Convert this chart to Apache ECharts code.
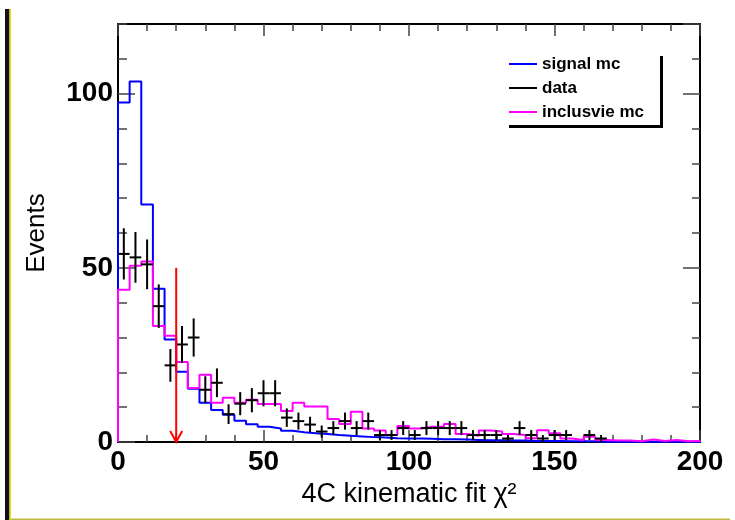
<!DOCTYPE html>
<html>
<head>
<meta charset="utf-8">
<script src="https://cdn.jsdelivr.net/npm/echarts@6/dist/echarts.min.js"></script>
<style>
  html, body { margin: 0; padding: 0; background: #fff; }
  #chart { width: 735px; height: 520px; }
</style>
</head>
<body>
<div id="chart"></div>
<script>
var chart = echarts.init(document.getElementById('chart'));

// histogram binning: 50 bins of width 4 from 0 to 200
var BIN_WIDTH = 4;
var X_MAX = 200;

// signal mc (blue)
var signalMc = [97.5, 103.5, 68.2, 44.0, 29.4, 20.2, 15.3, 11.3, 9.2, 7.8,
                6.1, 5.1, 4.4, 3.9, 3.2, 2.8, 2.5, 2.3, 2.0, 1.8,
                1.6, 1.4, 1.3, 1.1, 1.0, 1.0, 0.9, 0.8, 0.8, 0.7,
                0.6, 0.5, 0.5, 0.4, 0.4, 0.3, 0.3, 0.3, 0.2, 0.2,
                0.2, 0.1, 0.1, 0.1, 0.1, 0.1, 0.05, 0.05, 0.05, 0.05];

// inclusive mc (magenta)
var inclusiveMc = [43.7, 50.6, 51.8, 33.3, 30.5, 23.0, 15.5, 19.3, 11.3, 12.7,
                   11.3, 12.1, 10.9, 10.9, 8.9, 11.3, 10.2, 10.2, 6.6, 5.2,
                   8.7, 3.9, 3.3, 2.0, 4.6, 3.9, 4.4, 4.4, 5.2, 2.3,
                   1.8, 3.3, 3.0, 2.3, 2.0, 1.1, 3.4, 2.5, 1.0, 0.6,
                   1.5, 0.6, 0.4, 0.4, 0.2, 0.7, 0.3, 0.6, 0.2, 0.3];

// data counts (black points, sqrt(N) errors)
var dataCounts = [54, 53, 51, 39, 22, 28, 30, 15, 17, 8,
                  11, 12, 14, 14, 7, 6, 5, 3, 4, 6,
                  4, 6, 2, 2, 4, 2, 4, 4, 4, 4,
                  2, 2, 2, 1, 4, 2, 1, 2, 2, 0,
                  2, 1, 0, 0, 0, 0, 0, 0, 0, 0];

// cut position (red arrow)
var cutX = 20;
var cutTop = 50;

var seriesNames = ['signal mc', 'data', 'inclusvie mc'];

function stepPoints(values) {
    var pts = [[0, 0]];
    for (var i = 0; i < values.length; i++) {
        var lo = i * BIN_WIDTH;
        pts.push([lo, values[i]]);
        pts.push([lo + BIN_WIDTH, values[i]]);
    }
    pts.push([X_MAX, 0]);
    return pts;
}

function dataPoints(counts) {
    var res = [];
    for (var i = 0; i < counts.length; i++) {
        if (counts[i] > 0) {
            res.push([i * BIN_WIDTH + BIN_WIDTH / 2, counts[i]]);
        }
    }
    return res;
}

var labelFont = {
    fontFamily: 'Liberation Sans',
    fontWeight: 'bold',
    fontSize: 28,
    color: '#000'
};

function xAxisDef(pos, showLabel) {
    return {
        type: 'value', position: pos, min: 0, max: X_MAX, interval: 50,
        axisLine: { show: true, onZero: false, lineStyle: { color: '#000', width: 2 } },
        axisTick: { show: true, inside: true, length: 12, lineStyle: { color: '#444', width: 1.5 } },
        minorTick: { show: true, splitNumber: 5, length: 7, lineStyle: { color: '#444', width: 1.5 } },
        splitLine: { show: false },
        axisLabel: Object.assign({ show: showLabel, margin: 6 }, labelFont)
    };
}

function yAxisDef(pos, interval, len, showLabel, showLine) {
    return {
        type: 'value', position: pos, min: 0, max: 120, interval: interval,
        axisLine: { show: showLine, onZero: false, lineStyle: { color: '#000', width: 2 } },
        axisTick: { show: true, inside: true, length: len, lineStyle: { color: '#444', width: 1.5 } },
        splitLine: { show: false },
        axisLabel: Object.assign({ show: showLabel, margin: 5, showMaxLabel: false }, labelFont)
    };
}

var xBottom = xAxisDef('bottom', true);
xBottom.name = '4C kinematic fit \u03c7\u00b2';
xBottom.nameLocation = 'middle';
xBottom.nameGap = 31;
xBottom.nameTextStyle = { fontFamily: 'Liberation Sans', fontSize: 27, color: '#000' };

var yLeft = yAxisDef('left', 50, 17, true, true);
yLeft.name = 'Events';
yLeft.nameLocation = 'middle';
yLeft.nameRotate = 90;
yLeft.nameGap = 68;
yLeft.nameTextStyle = { fontFamily: 'Liberation Sans', fontSize: 26, color: '#000' };

var option = {
    animation: false,
    backgroundColor: '#fff',
    grid: { left: 118, right: 35, top: 24, bottom: 78, containLabel: false },
    xAxis: [xBottom, xAxisDef('top', false)],
    yAxis: [
        yLeft,
        yAxisDef('left', 10, 9, false, false),
        yAxisDef('right', 50, 17, false, true),
        yAxisDef('right', 10, 8, false, false)
    ],
    legend: {
        data: seriesNames.map(function (n) { return { name: n, icon: 'rect' }; }),
        orient: 'vertical',
        left: 509,
        top: 54,
        padding: 0,
        itemWidth: 28,
        itemHeight: 2,
        itemGap: 4,
        selectedMode: false,
        textStyle: { fontFamily: 'Liberation Sans', fontWeight: 'bold', fontSize: 17, lineHeight: 20, color: '#000' }
    },
    series: [
        {
            name: 'signal mc',
            type: 'line',
            data: stepPoints(signalMc),
            showSymbol: false,
            color: '#0000ff',
            lineStyle: { color: '#0000ff', width: 2 },
            z: 2
        },
        {
            name: 'inclusvie mc',
            type: 'line',
            data: stepPoints(inclusiveMc),
            showSymbol: false,
            color: '#ff00ff',
            lineStyle: { color: '#ff00ff', width: 2 },
            z: 3
        },
        {
            name: 'data',
            type: 'custom',
            color: '#000',
            itemStyle: { color: '#000' },
            data: dataPoints(dataCounts),
            z: 4,
            renderItem: function (params, api) {
                var x = api.value(0), n = api.value(1), err = Math.sqrt(n);
                var pL = api.coord([x - BIN_WIDTH / 2, n]);
                var pR = api.coord([x + BIN_WIDTH / 2, n]);
                var pT = api.coord([x, n + err]);
                var pB = api.coord([x, Math.max(0, n - err)]);
                return {
                    type: 'group',
                    children: [
                        { type: 'line', shape: { x1: pL[0], y1: pL[1], x2: pR[0], y2: pR[1] }, style: { stroke: '#000', lineWidth: 2 } },
                        { type: 'line', shape: { x1: pT[0], y1: pT[1], x2: pB[0], y2: pB[1] }, style: { stroke: '#000', lineWidth: 2 } }
                    ]
                };
            }
        },
        {
            name: 'cut',
            type: 'custom',
            data: [[cutX, cutTop]],
            z: 5,
            renderItem: function (params, api) {
                var top = api.coord([api.value(0), api.value(1)]);
                var bot = api.coord([api.value(0), 0]);
                return {
                    type: 'group',
                    children: [
                        { type: 'line', shape: { x1: top[0], y1: top[1], x2: bot[0], y2: bot[1] }, style: { stroke: '#ff0000', lineWidth: 2 } },
                        { type: 'polyline', shape: { points: [[bot[0] - 6, bot[1] - 11], [bot[0], bot[1]], [bot[0] + 6, bot[1] - 11]] }, style: { stroke: '#ff0000', lineWidth: 2, fill: null } }
                    ]
                };
            }
        }
    ],
    graphic: [
        // legend shadow frame
        { type: 'rect', shape: { x: 660, y: 56, width: 3, height: 72 }, style: { fill: '#000' } },
        { type: 'rect', shape: { x: 509, y: 125, width: 154, height: 3 }, style: { fill: '#000' } },
        // window edge strips
        { type: 'rect', shape: { x: 5, y: 9, width: 4.5, height: 511 }, style: { fill: '#111' } },
        { type: 'rect', shape: { x: 9.5, y: 9, width: 1.5, height: 511 }, style: { fill: '#e8e000' } },
        { type: 'rect', shape: { x: 11, y: 518.5, width: 719, height: 1.5 }, style: { fill: '#bdb840' } }
    ]
};

chart.setOption(option);
</script>
</body>
</html>
